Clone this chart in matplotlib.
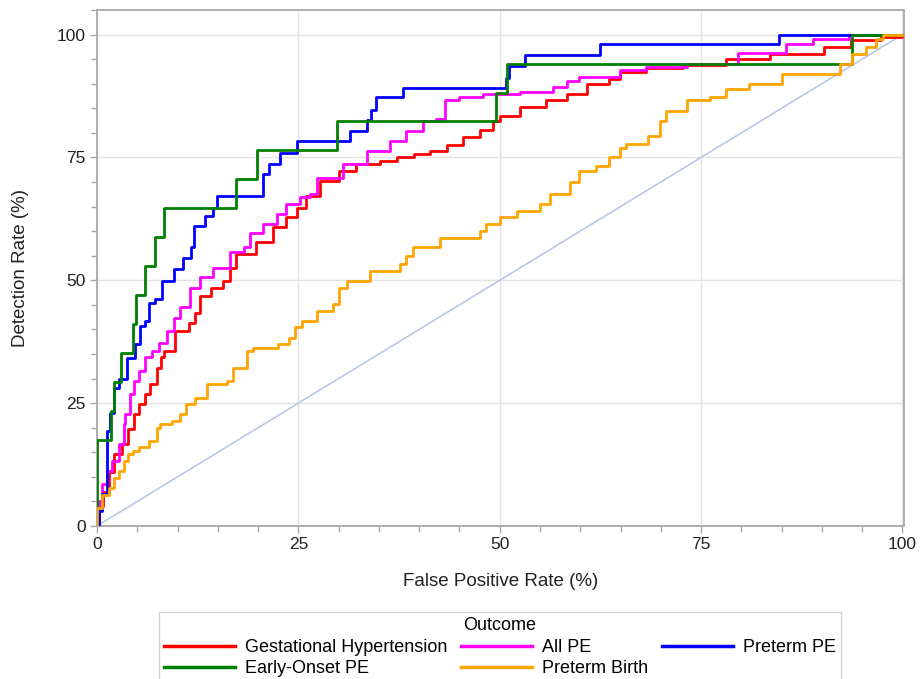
import matplotlib
matplotlib.use("Agg")
import matplotlib.pyplot as plt
from matplotlib.ticker import MultipleLocator

plt.rcParams['font.family'] = ['Liberation Sans', 'DejaVu Sans']

# ---- data (FPR %, detection rate %) ----
gh_fpr = [0, 0.3, 0.8, 1.45, 2.1, 3.1, 3.9, 4.55, 5.2, 6.0, 6.6, 7.4, 7.9, 8.3, 9.7, 11.4, 12.2,
          12.8, 14.1, 15.7, 16.5, 17.3, 19.8, 21.9, 23.5, 24.8, 26.0, 27.7, 30.1, 32.2, 35.1, 37.2,
          39.4, 41.3, 43.4, 45.4, 47.5, 49.2, 50.0, 52.5, 55.8, 58.3, 60.8, 63.6, 64.9, 68.2,
          72.7, 78.1, 83.5, 90.3, 93.6, 97.4, 100]
gh_tpr = [0, 4.0, 7.0, 10.9, 14.6, 16.7, 19.7, 22.8, 24.8, 26.9, 28.9, 32.2, 34.3, 35.6, 39.7,
          41.4, 43.4, 46.8, 48.5, 49.9, 52.6, 55.3, 57.7, 60.8, 62.8, 64.8, 67.2, 70.3, 72.3, 73.7,
          74.3, 75.0, 75.7, 76.4, 77.5, 79.1, 80.6, 82.5, 83.5, 85.2, 86.6, 87.9, 90.0, 91.0, 92.3,
          93.2, 93.8, 95.0, 96.1, 97.4, 98.8, 99.5, 100]

allpe_fpr = [0, 0.3, 0.6, 1.2, 1.9, 2.7, 3.3, 3.5, 4.1, 4.55, 5.2, 6.0, 6.8, 7.7, 8.7, 9.5, 10.3,
             11.5, 12.8, 14.4, 16.5, 18.2, 19.0, 20.6, 22.3, 23.5, 25.2, 26.4, 27.3, 30.6, 33.5,
             36.4, 38.4, 40.5, 42.1, 43.2, 45.0, 47.9, 52.5, 56.6, 58.3, 59.9, 64.9, 68.2, 73.2,
             79.6, 85.6, 88.9, 93.4, 100]
allpe_tpr = [0, 5.0, 8.5, 11.2, 13.2, 16.7, 20.8, 22.8, 26.9, 29.5, 31.6, 34.3, 35.6, 37.3, 39.7,
             42.4, 44.6, 48.5, 50.6, 52.6, 55.7, 56.7, 59.7, 61.4, 63.5, 65.5, 66.9, 67.6, 70.9,
             73.7, 76.4, 78.4, 80.4, 82.5, 82.8, 86.6, 87.2, 87.9, 88.3, 89.3, 90.6, 91.3, 92.7,
             93.4, 94.0, 96.2, 98.1, 99.1, 100, 100]

ptpe_fpr = [0, 0.3, 0.6, 1.2, 1.6, 2.1, 2.7, 3.7, 4.7, 5.4, 6.0, 6.4, 7.2, 8.1, 9.5, 10.7, 11.7,
            12.0, 13.4, 14.4, 14.9, 20.6, 21.3, 22.7, 24.8, 31.4, 33.5, 34.0, 34.7, 38.0, 50.8,
            51.2, 53.1, 62.4, 84.7, 100]
ptpe_tpr = [0, 3.0, 6.5, 19.3, 23.0, 28.0, 30.0, 34.2, 37.0, 40.7, 41.7, 45.4, 46.2, 49.9, 52.3,
            54.5, 56.7, 61.1, 63.1, 64.8, 67.2, 71.6, 73.7, 76.0, 78.4, 80.4, 82.6, 84.7, 87.2,
            89.2, 91.2, 93.7, 95.9, 98.0, 100, 100]

eope_fpr = [0, 0, 1.7, 2.1, 3.0, 4.5, 4.8, 6.0, 7.2, 8.3, 17.2, 19.9, 29.8, 49.6, 50.9, 93.7, 100]
eope_tpr = [0, 17.6, 23.5, 29.4, 35.3, 41.2, 47.1, 52.9, 58.8, 64.7, 70.6, 76.5, 82.4, 88.2,
            94.1, 100, 100]

ptb_fpr = [0, 0, 0.6, 1.45, 2.1, 2.7, 3.3, 3.9, 4.5, 5.2, 6.4, 7.4, 7.8, 9.3, 10.3, 11.1, 12.2,
           13.6, 16.1, 16.9, 18.6, 19.4, 22.5, 23.9, 24.6, 25.4, 27.3, 29.3, 30.1, 31.0, 33.9,
           37.6, 38.4, 39.2, 42.6, 47.5, 48.3, 50.0, 52.1, 55.0, 56.2, 58.7, 59.9, 62.0, 63.6,
           64.9, 65.7, 68.4, 69.9, 70.7, 73.2, 76.1, 78.1, 81.0, 85.1, 92.2, 93.8, 95.5, 96.7,
           97.6, 100]
ptb_tpr = [0, 3.7, 6.4, 7.8, 9.8, 11.2, 13.2, 14.6, 15.3, 16.0, 17.3, 20.0, 20.7, 21.4, 22.8,
           24.8, 26.1, 28.9, 29.5, 32.2, 35.6, 36.3, 37.0, 38.3, 40.5, 41.8, 43.8, 45.2, 48.5,
           49.9, 51.9, 53.3, 55.0, 56.7, 58.7, 60.1, 61.4, 62.8, 64.2, 65.5, 67.6, 69.9, 72.3,
           73.3, 75.0, 77.0, 77.7, 79.4, 82.5, 84.5, 86.6, 87.2, 88.9, 90.0, 92.0, 94.0, 96.1,
           97.4, 99.1, 100, 100]

ref_line = [0, 100]

series = [
    ("Gestational Hypertension", gh_fpr, gh_tpr, "#ff0000"),
    ("All PE", allpe_fpr, allpe_tpr, "#ff00ff"),
    ("Preterm PE", ptpe_fpr, ptpe_tpr, "#0000ff"),
    ("Early-Onset PE", eope_fpr, eope_tpr, "#008000"),
    ("Preterm Birth", ptb_fpr, ptb_tpr, "#ffa500"),
]

fig = plt.figure(figsize=(9.21, 6.79), dpi=100)
ax = fig.add_axes([97/921, 1-526/679, (904-97)/921, (526-10)/679])

ax.plot(ref_line, ref_line, color="#b9c8e6", lw=1.2, zorder=2)
handles = {}
for name, x, y, c in series:
    h, = ax.plot(x, y, drawstyle="steps-post", color=c, lw=2.0, label=name, zorder=3)
    handles[name] = h

ax.set_xlim(0, 100.2)
ax.set_ylim(0, 105)
ax.xaxis.set_major_locator(MultipleLocator(25))
ax.yaxis.set_major_locator(MultipleLocator(25))
ax.xaxis.set_minor_locator(MultipleLocator(5))
ax.yaxis.set_minor_locator(MultipleLocator(5))
ax.grid(True, which="major", color="#e3e3e3", lw=1.0, zorder=0)
ax.set_axisbelow(True)
for s in ax.spines.values():
    s.set_color("#a8a8a8")
    s.set_linewidth(1.3)
ax.tick_params(which="major", direction="out", length=5, width=1, color="#a8a8a8",
               labelsize=12.5, labelcolor="#222222", pad=3)
ax.tick_params(which="minor", direction="out", length=4, width=1, color="#a8a8a8")

ax.set_xlabel("False Positive Rate (%)", fontsize=13.5, color="#222222", labelpad=15)
ax.set_ylabel("Detection Rate (%)", fontsize=13.5, color="#222222", labelpad=20)

order = ["Gestational Hypertension", "Early-Onset PE", "All PE", "Preterm Birth", "Preterm PE"]
leg = fig.legend([handles[n] for n in order], order, ncol=3, loc="upper center",
                 bbox_to_anchor=(500/921, 1-612/679), borderaxespad=0.0,
                 title="Outcome", fontsize=13,
                 title_fontsize=13, fancybox=False, frameon=True, edgecolor="#c8c8c8",
                 handlelength=3.9, handletextpad=0.55, columnspacing=0.8, borderpad=0.3,
                 labelspacing=0.25)
leg.get_frame().set_linewidth(1.0)
for h in leg.legend_handles:
    h.set_linewidth(2.5)

fig.savefig("out.png", dpi=100)
